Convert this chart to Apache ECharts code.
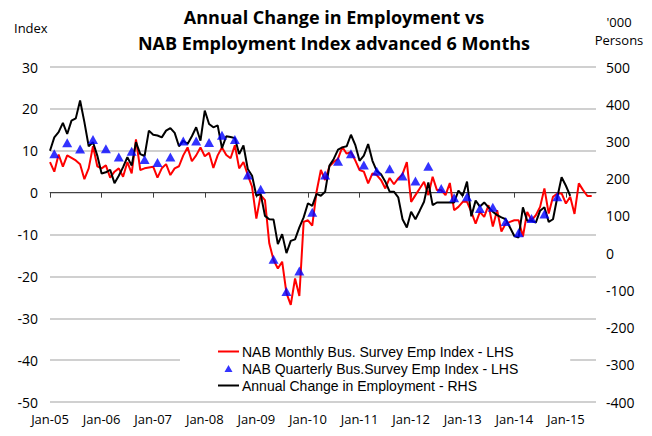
<!DOCTYPE html>
<html lang="en">
  <head>
    <meta charset="UTF-8" />
    <title>Annual Change in Employment vs NAB Employment Index</title>
    <script src="https://cdn.jsdelivr.net/npm/echarts@6/dist/echarts.min.js"></script>
    <style>
      html, body { margin: 0; padding: 0; background: #fff; }
      #main { width: 652px; height: 436px; }
    </style>
  </head>
  <body>
    <div id="main"></div>
    <script>
      // monthly categories Jan-05 .. Aug-15
      var monthNames = ["Jan", "Feb", "Mar", "Apr", "May", "Jun", "Jul", "Aug", "Sep", "Oct", "Nov", "Dec"];
      var categories = [];
      for (var y = 5; y <= 15; y++) {
        for (var m = 0; m < 12; m++) {
          if (y === 15 && m > 7) break;
          categories.push(monthNames[m] + "-" + (y < 10 ? "0" + y : y));
        }
      }

      // NAB monthly employment index (LHS), advanced 6 months, from Jan-05
      var nabMonthly = [
        7.3, 5.0, 9.1, 6.2, 8.9, 8.3, 7.7, 6.8, 3.2, 5.8, 11.1, 6.3,
        5.8, 6.5, 3.6, 5.0, 5.8, 3.8, 7.3, 4.6, 12.7, 5.4, 5.8, 6.0,
        6.2, 3.6, 5.8, 6.8, 4.2, 5.8, 6.3, 8.9, 10.8, 7.5, 8.9, 10.8,
        8.7, 9.5, 5.9, 8.9, 10.8, 9.0, 8.2, 11.3, 5.8, 7.3, 4.2, 1.4,
        -6.2, -0.6, -1.8, -12.1, -16.1, -18.1, -16.5, -24.0, -26.8, -20.5, -24.7, -7.0,
        -6.6, -7.9, 0.2, 5.4, 3.0, 6.3, 7.3, 8.1, 10.9, 9.3, 9.7, 7.7,
        5.4, 5.0, 2.2, 4.6, 4.2, 3.0, 1.0, 3.5, 2.0, 3.4, 4.4, 7.3,
        -2.2, -0.6, 1.0, 2.6, -0.6, 3.8, 0.6, 0.6, -0.6, 2.3, -4.2, -3.4,
        -2.2, -2.2, -4.6, -7.4, -4.6, -5.8, -3.0, -8.1, -4.2, -9.3, -7.4, -7.0,
        -6.6, -6.6, -10.5, -4.6, -6.6, -5.4, -3.4, 1.0, -5.0, -1.0, -0.2, -0.2,
        -2.6, -1.0, -5.1, 2.2, 0.6, -0.8, -0.8
      ];

      // NAB quarterly survey (LHS): Feb, May, Aug, Nov from Feb-05
      var quarterStart = 1;
      var nabQuarterly = [
        9.3, 11.9, 10.4, 12.7, 10.5, 8.5, 9.9, 7.9, 7.2, 8.5,
        12.3, 12.3, 12.0, 13.7, 12.7, 4.2, 0.8, -15.9, -23.6, -18.7,
        -4.7, 4.2, 7.5, 9.3, 6.6, 5.1, 5.7, 4.0, 2.8, 6.3,
        1.0, -1.2, -1.0, -3.8, -3.5, -6.9, -9.6, -6.2, -5.1, -1.0
      ];

      // annual change in employment, '000 persons (RHS), from Jan-05
      var employment = [
        275, 311, 325, 350, 320, 356, 362, 410, 352, 287, 298, 262,
        214, 217, 224, 188, 208, 231, 258, 235, 298, 266, 261, 329,
        318, 316, 311, 329, 336, 323, 287, 302, 293, 314, 338, 302,
        383, 347, 338, 343, 282, 314, 312, 309, 266, 289, 226, 208,
        154, 159, 100, 91, 90, 24, 51, 0, 33, 37, 69, 96,
        134, 127, 159, 154, 165, 235, 253, 278, 284, 287, 318, 291,
        248, 262, 293, 248, 221, 212, 192, 165, 165, 150, 91, 69,
        111, 91, 114, 138, 190, 129, 136, 136, 136, 136, 136, 168,
        154, 192, 99, 141, 125, 136, 123, 111, 102, 96, 91, 69,
        46, 42, 123, 87, 87, 82, 114, 123, 84, 91, 150, 204,
        181, 154
      ];

      var quarterlyPoints = nabQuarterly.map(function (v, k) {
        return [categories[quarterStart + 3 * k], v];
      });

      var FONT = '"Open Sans", "Liberation Sans", sans-serif';
      // icons drawn inside a 21x8 box so the legend keeps them small
      var LINE_ICON = "path://M0,0M21,8M0,3H21V5H0Z";
      var TRI_ICON = "path://M0,0M21,8M6.5,7.5L10.5,0.5L14.5,7.5Z";
      var isJan = function (idx) { return idx % 12 === 0; };

      var chart = echarts.init(document.getElementById("main"), null, { renderer: "svg" });

      chart.setOption({
        animation: false,
        textStyle: { fontFamily: FONT },
        graphic: [
          {
            type: "text", x: 334, y: 4,
            style: {
              text: "Annual Change in Employment vs\nNAB Employment Index advanced 6 Months",
              font: "bold 18px " + FONT, fill: "#000", align: "center", verticalAlign: "top", lineHeight: 26
            }
          },
          { type: "text", x: 14, y: 21, style: { text: "Index", font: "13px " + FONT, fill: "#000" } },
          {
            type: "text", x: 619, y: 13,
            style: { text: "'000\nPersons", font: "13px " + FONT, fill: "#000", align: "center", lineHeight: 18 }
          }
        ],
        grid: { left: 50, right: 56, top: 67, bottom: 34 },
        legend: {
          orient: "vertical",
          left: 180,
          top: 340,
          backgroundColor: "#fff",
          padding: [3, 52, 6, 38],
          itemWidth: 21,
          itemHeight: 8,
          itemGap: 0,
          textStyle: {
            fontSize: 14, fontFamily: '"Liberation Sans", sans-serif',
            color: "#000", lineHeight: 17, padding: [0, 0, 0, -2]
          },
          data: [
            { name: "NAB Monthly Bus. Survey Emp Index - LHS", icon: LINE_ICON, itemStyle: { color: "#ff0000" } },
            { name: "NAB Quarterly Bus.Survey Emp Index - LHS", icon: TRI_ICON, itemStyle: { color: "#0000ff" } },
            { name: "Annual Change in Employment - RHS", icon: LINE_ICON, itemStyle: { color: "#000000" } }
          ]
        },
        xAxis: [
          {
            type: "category",
            data: categories,
            boundaryGap: false,
            position: "bottom",
            axisLine: { show: false },
            axisTick: { show: false },
            axisLabel: { interval: isJan, fontSize: 13, color: "#000", margin: 10 },
            splitLine: { show: false }
          },
          {
            type: "category",
            data: categories,
            boundaryGap: false,
            position: "top",
            axisLine: { onZero: true, onZeroAxisIndex: 0, lineStyle: { color: "#404040", width: 1 } },
            axisTick: { show: true, inside: true, length: 5, interval: isJan, lineStyle: { color: "#404040" } },
            axisLabel: { show: false },
            splitLine: { show: false }
          }
        ],
        yAxis: [
          {
            type: "value",
            position: "left",
            min: -50, max: 30, interval: 10,
            axisLine: { show: false },
            axisTick: { show: false },
            axisLabel: { fontSize: 14, color: "#000", margin: 12 },
            splitLine: { lineStyle: { color: "#c0c0c0", width: 1.5 } }
          },
          {
            type: "value",
            position: "right",
            min: -400, max: 500, interval: 100,
            axisLine: { show: false },
            axisTick: { show: false },
            axisLabel: { fontSize: 14, color: "#000", margin: 10 },
            splitLine: { show: false }
          }
        ],
        series: [
          {
            name: "NAB Monthly Bus. Survey Emp Index - LHS",
            type: "line",
            xAxisIndex: 0, yAxisIndex: 0,
            data: nabMonthly,
            symbol: "none",
            color: "#ff0000",
            lineStyle: { color: "#ff0000", width: 2 },
            z: 2
          },
          {
            name: "NAB Quarterly Bus.Survey Emp Index - LHS",
            type: "scatter",
            xAxisIndex: 0, yAxisIndex: 0,
            data: quarterlyPoints,
            symbol: "triangle",
            symbolSize: [10, 9],
            itemStyle: { color: "#0000ff" },
            z: 4
          },
          {
            name: "Annual Change in Employment - RHS",
            type: "line",
            xAxisIndex: 0, yAxisIndex: 1,
            data: employment,
            symbol: "none",
            color: "#000000",
            lineStyle: { color: "#000000", width: 2 },
            z: 3
          }
        ]
      });
    </script>
  </body>
</html>
